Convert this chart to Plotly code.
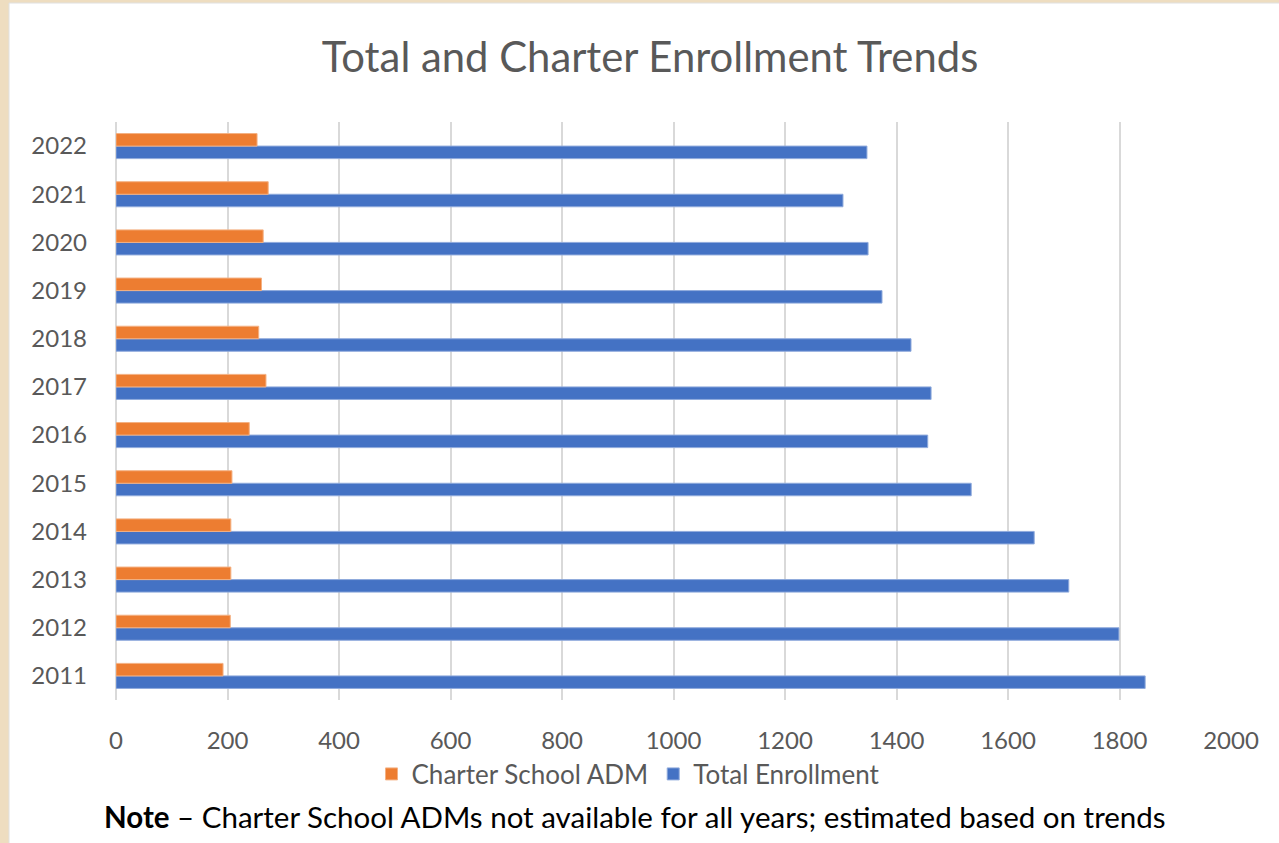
import plotly.graph_objects as go

years = ["2011", "2012", "2013", "2014", "2015", "2016", "2017", "2018", "2019", "2020", "2021", "2022"]
total_enrollment = [1846, 1799, 1709, 1647, 1534, 1456, 1462, 1426, 1374, 1349, 1304, 1347]
charter_adm = [192, 205, 206, 206, 208, 239, 269, 256, 261, 264, 273, 253]
x_ticks = [0, 200, 400, 600, 800, 1000, 1200, 1400, 1600, 1800, 2000]

FONT = "Lato"
GREY = "#595959"

L, R, T, B = 116, 48, 122, 143
W, H = 1279, 843
pw = W - L - R
ph = H - T - B

def px_x(px):
    return (px - L) / pw

def px_y(py):
    return (H - B - py) / ph

fig = go.Figure()
fig.add_trace(go.Bar(
    y=years, x=total_enrollment, orientation="h", name="Total Enrollment",
    marker=dict(color="#4472C4", line=dict(color="#8FAADC", width=1)),
))
fig.add_trace(go.Bar(
    y=years, x=charter_adm, orientation="h", name="Charter School ADM",
    marker=dict(color="#ED7D31", line=dict(color="#F4B183", width=1)),
))

fig.add_shape(type="rect", xref="paper", yref="paper",
              x0=px_x(9), x1=px_x(1290), y0=px_y(850), y1=px_y(3),
              fillcolor="white", line=dict(color="#E0E0E0", width=1), layer="below")

fig.add_annotation(
    text="<b>Note</b> – Charter School ADMs not available for all years; estimated based on trends",
    xref="paper", yref="paper", x=px_x(635), y=px_y(817), showarrow=False,
    font=dict(family=FONT, size=29.5, color="black"), xanchor="center", yanchor="middle",
)

fig.update_layout(
    width=W, height=H,
    margin=dict(l=L, r=R, t=T, b=B),
    paper_bgcolor="#EEDDC0",
    plot_bgcolor="white",
    barmode="group",
    bargap=0.48,
    bargroupgap=0.0,
    title=dict(text="Total and Charter Enrollment Trends", xref="container", x=650 / W, xanchor="center",
               y=1 - 57 / H, yanchor="middle",
               font=dict(family=FONT, size=41.8, color=GREY)),
    legend=dict(orientation="h", traceorder="reversed", x=px_x(628), xanchor="center",
                y=px_y(774), yanchor="middle", font=dict(family=FONT, size=26, color=GREY),
                bgcolor="rgba(0,0,0,0)", itemwidth=30),
    xaxis=dict(range=[0, 2000], tickvals=x_ticks, showgrid=True, gridcolor="#D9D9D9", gridwidth=2,
               zeroline=True, zerolinecolor="#D9D9D9", zerolinewidth=2,
               tickfont=dict(family=FONT, size=24, color=GREY), ticklabelstandoff=24,
               showline=False, fixedrange=True),
    yaxis=dict(tickfont=dict(family=FONT, size=24, color=GREY), ticklabelstandoff=28,
               showgrid=False, zeroline=False, showline=False, fixedrange=True),
    font=dict(family=FONT, color=GREY),
)

fig.write_html("out.html", config={"displayModeBar": False},
               post_script="document.body.style.margin='0';document.body.style.background='#EEDDC0';")
